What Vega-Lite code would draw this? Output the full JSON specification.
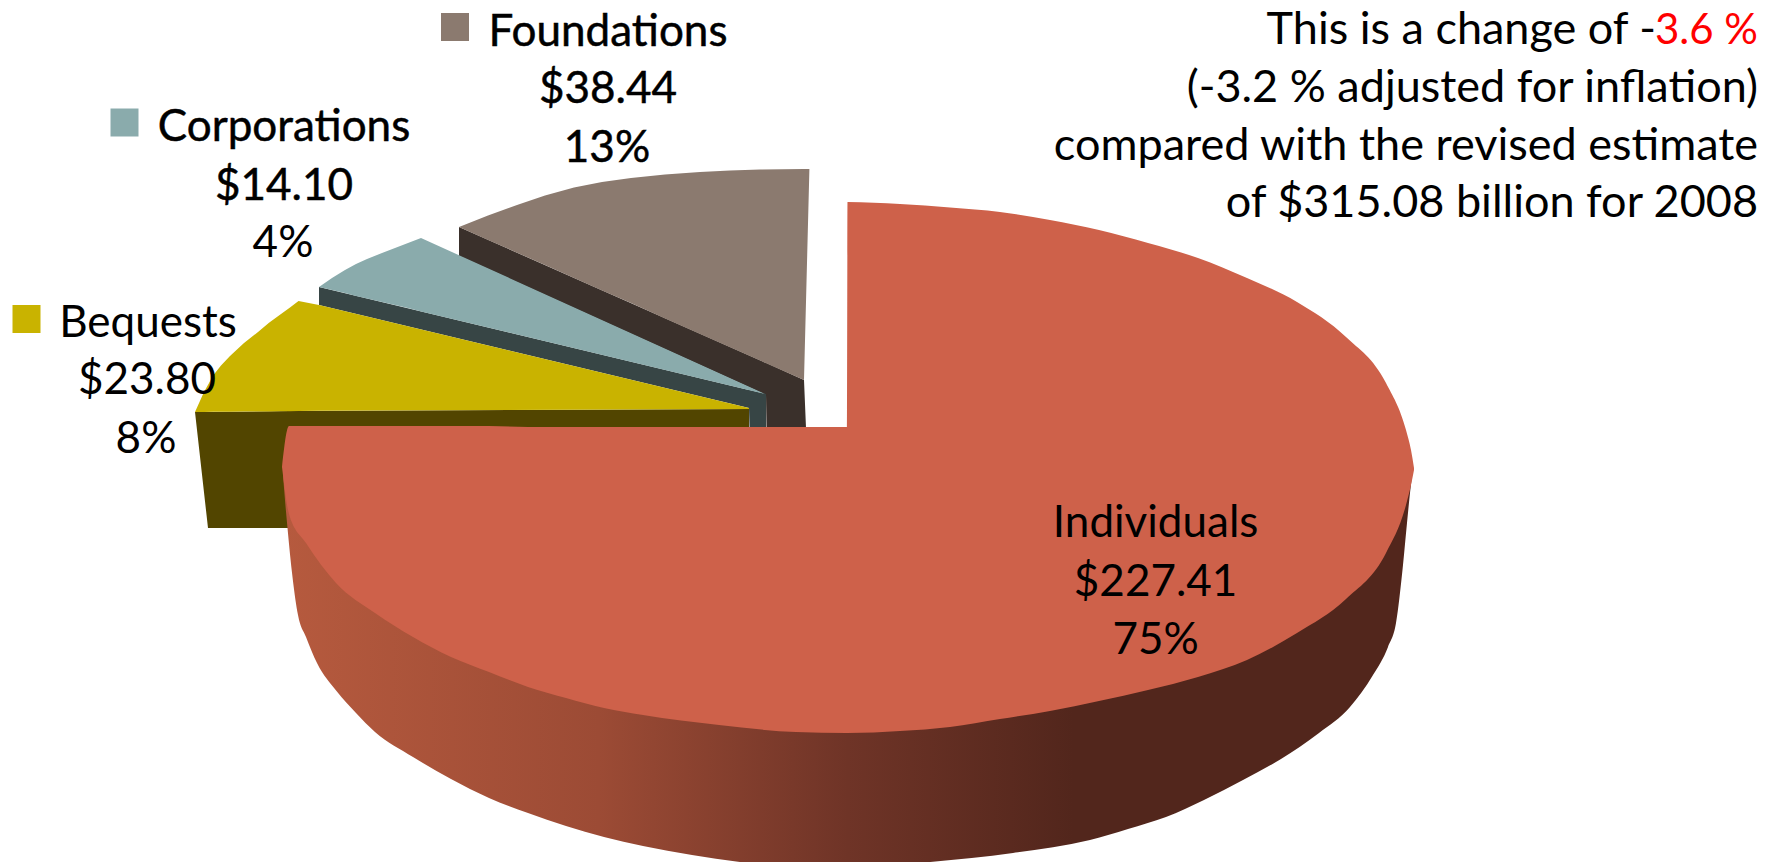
{"$schema":"https://vega.github.io/schema/vega-lite/v6.json","width":1776,"height":862,"padding":0,"autosize":{"type":"none"},"background":"white","config":{"view":{"stroke":null}},
"datasets":{
"flat":[
{"part":"Foundations side","x":459,"y":227,"y2":256},{"part":"Foundations side","x":766,"y":363,"y2":395},{"part":"Foundations side","x":766.5,"y":363,"y2":428},{"part":"Foundations side","x":804,"y":380,"y2":428},{"part":"Foundations side","x":806,"y":428,"y2":428},
{"part":"Foundations","x":459,"y":227,"y2":227},{"part":"Foundations","x":488,"y":215.5,"y2":239.9},{"part":"Foundations","x":517,"y":205,"y2":252.7},{"part":"Foundations","x":545,"y":195.5,"y2":265.1},{"part":"Foundations","x":574,"y":187.5,"y2":278},{"part":"Foundations","x":602,"y":182,"y2":290.4},{"part":"Foundations","x":631,"y":178,"y2":303},{"part":"Foundations","x":665,"y":174.5,"y2":318.4},{"part":"Foundations","x":700,"y":172,"y2":334},{"part":"Foundations","x":730,"y":170.5,"y2":347.2},{"part":"Foundations","x":760,"y":169.5,"y2":360.5},{"part":"Foundations","x":804,"y":169,"y2":380},{"part":"Foundations","x":809.4,"y":169,"y2":169},
{"part":"Corporations side","x":319,"y":287,"y2":305},{"part":"Corporations side","x":749,"y":390,"y2":408},{"part":"Corporations side","x":749.5,"y":390,"y2":428},{"part":"Corporations side","x":766,"y":394,"y2":428},
{"part":"Corporations","x":319,"y":287,"y2":287},{"part":"Corporations","x":332,"y":278,"y2":290},{"part":"Corporations","x":345,"y":270,"y2":293},{"part":"Corporations","x":356,"y":264,"y2":296},{"part":"Corporations","x":367,"y":259,"y2":298.5},{"part":"Corporations","x":382,"y":253,"y2":302},{"part":"Corporations","x":395,"y":248,"y2":305},{"part":"Corporations","x":408,"y":243,"y2":308},{"part":"Corporations","x":421,"y":238,"y2":311.5},{"part":"Corporations","x":765,"y":394,"y2":394},
{"part":"Bequests side","x":195,"y":412,"y2":412},{"part":"Bequests side","x":208,"y":412,"y2":528},{"part":"Bequests side","x":290,"y":411,"y2":528},{"part":"Bequests side","x":291,"y":411,"y2":428},{"part":"Bequests side","x":749,"y":409,"y2":428},
{"part":"Bequests","x":195,"y":412,"y2":412},{"part":"Bequests","x":204,"y":392,"y2":411.9},{"part":"Bequests","x":213.5,"y":375,"y2":411.8},{"part":"Bequests","x":221,"y":365.5,"y2":411.7},{"part":"Bequests","x":230,"y":356,"y2":411.7},{"part":"Bequests","x":244,"y":343,"y2":411.6},{"part":"Bequests","x":258,"y":332,"y2":411.5},{"part":"Bequests","x":269,"y":322.8,"y2":411.4},{"part":"Bequests","x":281,"y":314,"y2":411.3},{"part":"Bequests","x":290,"y":307.5,"y2":411.2},{"part":"Bequests","x":298.5,"y":301,"y2":411},{"part":"Bequests","x":319,"y":305,"y2":410.8},{"part":"Bequests","x":749,"y":408,"y2":409}
],
"wall":[
{"x":283,"y":470,"y2":475},{"x":285,"y":470,"y2":500},{"x":287.5,"y":470,"y2":528},{"x":292.5,"y":470,"y2":577},{"x":298,"y":470,"y2":615},{"x":306,"y":470,"y2":637},{"x":317,"y":470,"y2":663},{"x":336.5,"y":470,"y2":691},{"x":356,"y":470,"y2":713},{"x":375,"y":470,"y2":732},{"x":413,"y":470,"y2":757},{"x":451,"y":470,"y2":779},{"x":489,"y":470,"y2":798},{"x":528,"y":470,"y2":813},{"x":566,"y":470,"y2":826},{"x":604,"y":470,"y2":837},{"x":643,"y":470,"y2":846},{"x":692,"y":470,"y2":855},{"x":757,"y":470,"y2":864},{"x":850,"y":470,"y2":870},{"x":910,"y":470,"y2":864},{"x":1013,"y":470,"y2":853},{"x":1090,"y":470,"y2":840},{"x":1128,"y":470,"y2":829},{"x":1166,"y":470,"y2":817},{"x":1204,"y":470,"y2":800},{"x":1243,"y":470,"y2":780},{"x":1281,"y":470,"y2":759},{"x":1319,"y":470,"y2":733},{"x":1350,"y":470,"y2":707},{"x":1373,"y":470,"y2":675},{"x":1388,"y":470,"y2":647},{"x":1396,"y":470,"y2":623},{"x":1403,"y":470,"y2":565},{"x":1407,"y":470,"y2":523},{"x":1410,"y":470,"y2":493},{"x":1412,"y":470,"y2":476}
],
"face":[
{"part":"Individuals","x":282,"y":467,"y2":467},{"part":"Individuals","x":289,"y":426,"y2":514},{"part":"Individuals","x":306,"y":426,"y2":543},{"part":"Individuals","x":336,"y":426,"y2":583},{"part":"Individuals","x":375,"y":426,"y2":613},{"part":"Individuals","x":413,"y":426,"y2":637},{"part":"Individuals","x":451,"y":426,"y2":657},{"part":"Individuals","x":489,"y":426,"y2":672},{"part":"Individuals","x":528,"y":427,"y2":687},{"part":"Individuals","x":566,"y":427,"y2":698},{"part":"Individuals","x":604,"y":427,"y2":708},{"part":"Individuals","x":643,"y":427,"y2":715},{"part":"Individuals","x":719,"y":427,"y2":725},{"part":"Individuals","x":796,"y":427,"y2":732},{"part":"Individuals","x":847,"y":427,"y2":733},{"part":"Individuals","x":847.5,"y":202,"y2":733},{"part":"Individuals","x":900,"y":204,"y2":731},{"part":"Individuals","x":950,"y":207.5,"y2":727},{"part":"Individuals","x":1000,"y":212,"y2":719},{"part":"Individuals","x":1050,"y":220,"y2":711},{"part":"Individuals","x":1099,"y":230,"y2":701},{"part":"Individuals","x":1148,"y":243,"y2":690},{"part":"Individuals","x":1198,"y":258,"y2":677},{"part":"Individuals","x":1247,"y":278,"y2":660},{"part":"Individuals","x":1297,"y":302,"y2":633},{"part":"Individuals","x":1346,"y":337,"y2":599},{"part":"Individuals","x":1386,"y":383,"y2":553},{"part":"Individuals","x":1406,"y":430,"y2":505},{"part":"Individuals","x":1411,"y":450,"y2":485},{"part":"Individuals","x":1414,"y":468,"y2":470}
],
"swatches":[{"part":"Foundations","x":455,"y":27},{"part":"Corporations","x":124.5,"y":122.5},{"part":"Bequests","x":26.5,"y":319}],
"labels":[
{"text":"Foundations","x":608,"y":45.5,"weight":"heavy"},{"text":"$38.44","x":608,"y":103,"weight":"heavy"},{"text":"13%","x":607,"y":162,"weight":"heavy"},
{"text":"Corporations","x":284,"y":141,"weight":"heavy"},{"text":"$14.10","x":284,"y":199.5,"weight":"heavy"},{"text":"4%","x":283,"y":257,"weight":"plain"},
{"text":"Bequests","x":148,"y":337,"weight":"plain"},{"text":"$23.80","x":147,"y":394,"weight":"plain"},{"text":"8%","x":146,"y":453,"weight":"plain"},
{"text":"Individuals","x":1155.6,"y":537,"weight":"plain"},{"text":"$227.41","x":1155.6,"y":596,"weight":"plain"},{"text":"75%","x":1155.6,"y":654,"weight":"plain"}
],
"note":[
{"text":"This is a change of -","x":1656,"y":44,"role":"plain"},{"text":"3.6 %","x":1758,"y":44,"role":"highlight"},
{"text":"(-3.2 % adjusted for inflation)","x":1758,"y":102,"role":"plain"},{"text":"compared with the revised estimate","x":1758,"y":160,"role":"plain"},{"text":"of $315.08 billion for 2008","x":1758,"y":217,"role":"plain"}
]},
"encoding":{"x":{"field":"x","type":"quantitative","scale":{"domain":[0,1776]},"axis":null},"y":{"field":"y","type":"quantitative","scale":{"domain":[862,0]},"axis":null,"stack":null}},
"layer":[
{"data":{"name":"flat"},"mark":{"type":"area","orient":"vertical","clip":true},"encoding":{"y2":{"field":"y2"},"color":{"field":"part","type":"nominal","legend":null,"scale":{"domain":["Foundations","Foundations side","Corporations","Corporations side","Bequests","Bequests side","Individuals"],"range":["#8B7A6F","#3A302B","#8AABAC","#374545","#C9B300","#524500","#CE614A"]}}}},
{"data":{"name":"wall"},"mark":{"type":"area","orient":"vertical","clip":true,"interpolate":"monotone","fill":{"gradient":"linear","x1":0,"y1":0,"x2":1,"y2":0,"stops":[{"offset":0,"color":"#B65A3E"},{"offset":0.28,"color":"#9C4B35"},{"offset":0.5,"color":"#6F3427"},{"offset":0.7,"color":"#52261C"},{"offset":1,"color":"#52261C"}]}},"encoding":{"y2":{"field":"y2"}}},
{"data":{"name":"face"},"mark":{"type":"area","orient":"vertical","clip":true,"interpolate":"monotone"},"encoding":{"y2":{"field":"y2"},"color":{"field":"part","type":"nominal","legend":null}}},
{"data":{"name":"swatches"},"mark":{"type":"square","size":784,"opacity":1},"encoding":{"color":{"field":"part","type":"nominal","legend":null}}},
{"data":{"name":"labels"},"transform":[{"filter":"datum.weight==='plain'"}],"mark":{"type":"text","font":"Lato","fontSize":44,"align":"center","baseline":"alphabetic","color":"black"},"encoding":{"text":{"field":"text"}}},
{"data":{"name":"labels"},"transform":[{"filter":"datum.weight==='heavy'"}],"mark":{"type":"text","font":"Lato","fontSize":44,"align":"center","baseline":"alphabetic","color":"black","stroke":"black","strokeWidth":0.5},"encoding":{"text":{"field":"text"}}},
{"data":{"name":"note"},"transform":[{"filter":"datum.role==='plain'"}],"mark":{"type":"text","font":"Lato","fontSize":45,"align":"right","baseline":"alphabetic","color":"black"},"encoding":{"text":{"field":"text"}}},
{"data":{"name":"note"},"transform":[{"filter":"datum.role==='highlight'"}],"mark":{"type":"text","font":"Lato","fontSize":42,"align":"right","baseline":"alphabetic","color":"#FF0000"},"encoding":{"text":{"field":"text"}}}
],
"resolve":{"scale":{"color":"shared"}}}
